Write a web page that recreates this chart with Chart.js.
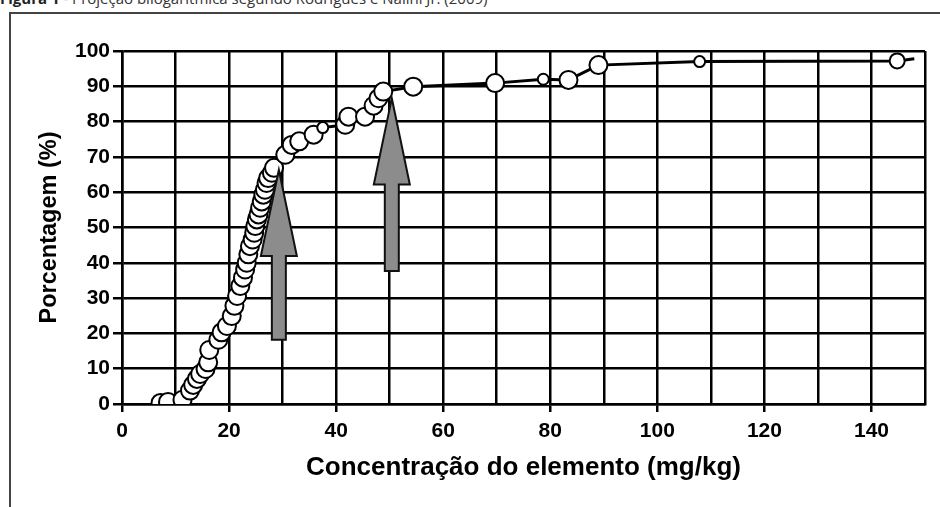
<!DOCTYPE html>
<html>
<head>
<meta charset="utf-8">
<script src="https://cdn.jsdelivr.net/npm/chart.js@4.4.1/dist/chart.umd.min.js"></script>
<style>
  html, body { margin: 0; padding: 0; background: #fff; }
  body { width: 940px; height: 507px; position: relative; overflow: hidden; }
  #caption {
    position: absolute; left: 0; top: -12px;
    font-family: "Open Sans", sans-serif; font-size: 15px; color: #333;
    white-space: nowrap;
  }
  #caption b { color: #222; }
  #frame {
    position: absolute; left: 9px; top: 12px; width: 940px; height: 520px;
    border: 2px solid #444; box-sizing: border-box;
  }
  #wrap { position: absolute; left: 0; top: 0; width: 940px; height: 507px; }
</style>
</head>
<body>
<div id="caption"><b>Figura 1</b> - Projeção bilogarítmica segundo Rodrigues e Nalini Jr. (2009)</div>
<div id="frame"></div>
<div id="wrap"><canvas id="chart"></canvas></div>
<script>
// concentração (mg/kg) e porcentagem acumulada
const concentracao = [
  7.2, 8.6, 11.3, 12.7, 13.3, 14.0, 14.6, 15.6, 16.1, 16.3, 18.0, 18.6, 19.6, 20.5, 21.0,
  21.5, 22.1, 22.6, 23.0, 23.3, 23.6, 23.9, 24.4, 24.7, 24.9, 25.2, 25.5, 25.8, 26.1, 26.4,
  26.7, 27.0, 27.3, 28.0, 28.4,
  30.5, 31.7, 33.1, 35.8, 37.5, 41.7, 42.3, 45.4, 47.0, 47.9, 48.8, 54.4, 69.7, 78.7, 83.4,
  89.0, 107.9, 144.8
];
const porcentagem = [
  0.3, 0.6, 1.2, 3.8, 5.4, 7.1, 8.5, 9.9, 11.8, 15.3, 18.2, 20.3, 22.1, 24.9, 27.8,
  30.6, 33.4, 35.8, 38.1, 40.0, 42.4, 44.7, 46.6, 48.5, 50.4, 52.3, 53.7, 55.6, 57.4, 59.3,
  60.7, 62.6, 64.0, 65.5, 66.9,
  70.6, 73.4, 74.4, 76.3, 78.3, 79.1, 81.4, 81.4, 84.5, 86.6, 88.5, 89.9, 90.9, 92.0, 91.8,
  96.0, 97.0, 97.2
];
// a linha continua até quase a borda direita
const lineTail = { x: 148, y: 97.8 };

const xTicks = [0, 20, 40, 60, 80, 100, 120, 140];
const yTicks = [0, 10, 20, 30, 40, 50, 60, 70, 80, 90, 100];

// setas (unidades dos dados)
const arrows = [
  { x: 29.3, tip: 66.3, base: 18.2 },
  { x: 50.4, tip: 86.6, base: 37.7 }
];

const points = concentracao.map((c, i) => ({ x: c, y: porcentagem[i] }));
const smallMarkers = [39, 48, 51];

const arrowPlugin = {
  id: 'arrows',
  afterDatasetsDraw(chart) {
    const { ctx, scales: { x, y } } = chart;
    ctx.save();
    arrows.forEach(a => {
      const cx = x.getPixelForValue(a.x);
      const tipY = y.getPixelForValue(a.tip);
      const headY = y.getPixelForValue(a.tip - 24.4);
      const baseY = y.getPixelForValue(a.base);
      const hw = 18, sw = 7;
      ctx.beginPath();
      ctx.moveTo(cx, tipY);
      ctx.lineTo(cx + hw, headY);
      ctx.lineTo(cx + sw, headY);
      ctx.lineTo(cx + sw, baseY);
      ctx.lineTo(cx - sw, baseY);
      ctx.lineTo(cx - sw, headY);
      ctx.lineTo(cx - hw, headY);
      ctx.closePath();
      ctx.fillStyle = '#8c8c8c';
      ctx.fill();
      ctx.lineWidth = 2;
      ctx.strokeStyle = '#111';
      ctx.stroke();
    });
    ctx.restore();
  }
};

const fontFamily = '"Liberation Sans", Arial, sans-serif';
const tickFont = { family: fontFamily, size: 21, weight: 'bold' };

new Chart(document.getElementById('chart'), {
  type: 'scatter',
  data: {
    datasets: [
      {
        data: points,
        showLine: false,
        pointRadius: ctx => {
          if (smallMarkers.includes(ctx.dataIndex)) return 5.5;
          if (ctx.dataIndex === points.length - 1) return 7.5;
          return 9;
        },
        pointBackgroundColor: '#fff',
        pointBorderColor: '#000',
        pointBorderWidth: 2
      },
      {
        data: points.concat([lineTail]),
        showLine: true,
        pointRadius: 0,
        borderColor: '#000',
        borderWidth: 3,
        fill: false
      }
    ]
  },
  options: {
    responsive: true,
    maintainAspectRatio: false,
    animation: false,
    layout: { padding: { left: 0, top: 51, right: 15, bottom: 0 } },
    plugins: { legend: { display: false }, tooltip: { enabled: false } },
    scales: {
      x: {
        type: 'linear', min: 0, max: 150,
        afterFit: s => { s.height = 103; },
        afterBuildTicks: s => {
          const vals = [];
          for (let v = 0; v <= 150; v += 10) vals.push({ value: v });
          s.ticks = vals;
        },
        ticks: {
          color: '#000', font: tickFont, padding: 7, maxRotation: 0, autoSkip: false,
          callback: v => xTicks.includes(v) ? String(v) : ''
        },
        grid: {
          color: '#000', lineWidth: 2.5, tickLength: 8,
          tickColor: c => xTicks.includes(c.tick.value) ? '#000' : 'rgba(0,0,0,0)'
        },
        border: { color: '#000', width: 2.5 },
        title: {
          display: true, text: 'Concentração do elemento (mg/kg)', color: '#000',
          font: { family: fontFamily, size: 26, weight: 'bold' },
          padding: { top: 0, bottom: 24 }
        }
      },
      y: {
        type: 'linear', min: 0, max: 100,
        afterFit: s => { s.width = 122; },
        afterBuildTicks: s => { s.ticks = yTicks.map(v => ({ value: v })); },
        ticks: { color: '#000', font: tickFont, padding: 3 },
        grid: { color: '#000', lineWidth: 2.5, tickLength: 9, tickColor: '#000' },
        border: { color: '#000', width: 2.5 },
        title: {
          display: true, text: 'Porcentagem (%)', color: '#000',
          font: { family: fontFamily, size: 23.5, weight: 'bold' },
          padding: { top: 35, bottom: 0 }
        }
      }
    }
  },
  plugins: [arrowPlugin]
});
</script>
</body>
</html>
